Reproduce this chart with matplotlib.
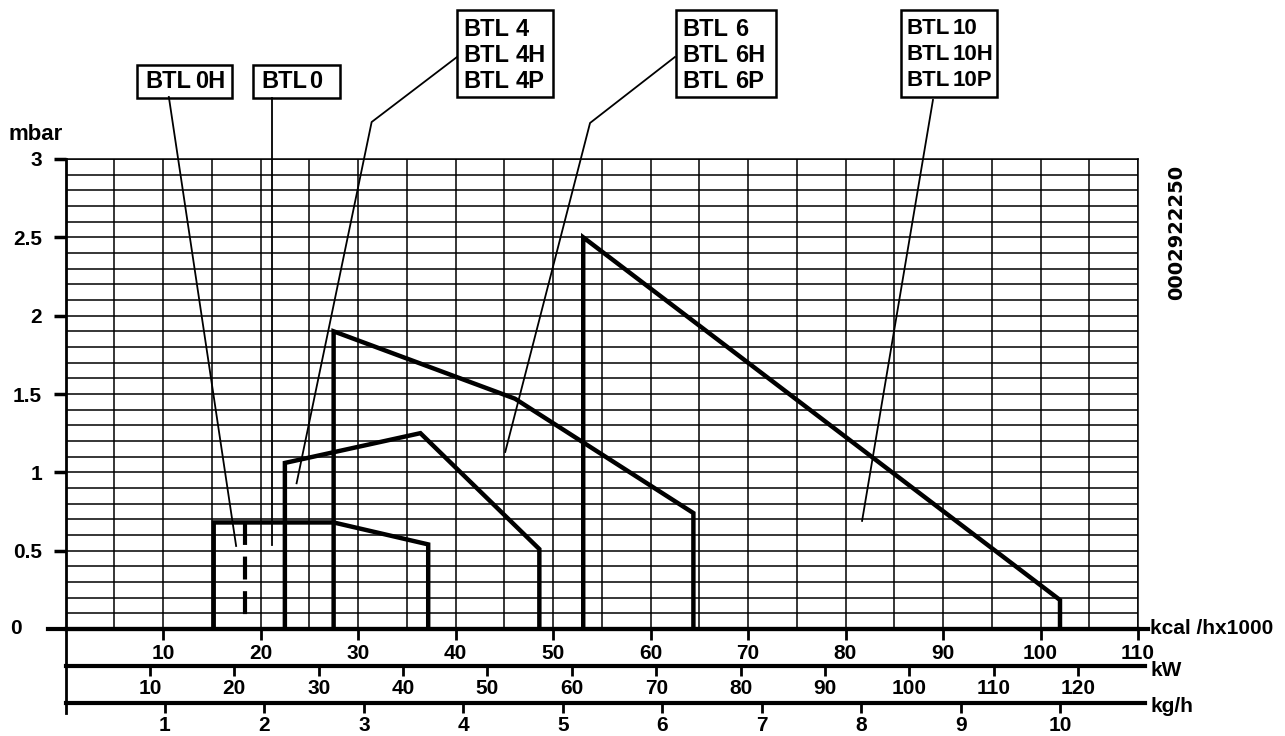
import matplotlib
matplotlib.use("Agg")
import matplotlib.pyplot as plt
from matplotlib.patches import Rectangle
from matplotlib.ticker import MultipleLocator, FixedLocator

# working ranges of the burners: kcal/h x1000 against mbar
btl0_x = [15.2, 15.2, 27.5, 37.2, 37.2]
btl0_y = [0.0, 0.68, 0.68, 0.54, 0.0]
btl0h_x = [18.4, 18.4]
btl0h_y = [0.68, 0.06]
btl4_x = [22.5, 22.5, 36.4, 48.6, 48.6]
btl4_y = [0.0, 1.06, 1.25, 0.51, 0.0]
btl6_x = [27.5, 27.5, 46.1, 64.4, 64.4]
btl6_y = [0.0, 1.9, 1.47, 0.74, 0.0]
btl10_x = [53.1, 53.1, 102.0, 102.0]
btl10_y = [0.0, 2.5, 0.185, 0.0]

kcal_ticks = [10, 20, 30, 40, 50, 60, 70, 80, 90, 100, 110]
kw_ticks = [10, 20, 30, 40, 50, 60, 70, 80, 90, 100, 110, 120]
kgh_ticks = [1, 2, 3, 4, 5, 6, 7, 8, 9, 10]
mbar_ticks = [0.5, 1, 1.5, 2, 2.5, 3]
mbar_labels = ["0.5", "1", "1.5", "2", "2.5", "3"]

KCAL_PER_KW = 0.8656
KCAL_PER_KGH = 10.205

W, H = 1285, 736
plt.rcParams["font.family"] = ["Liberation Sans", "DejaVu Sans"]
plt.rcParams["font.weight"] = "bold"


def fx(px):
    return px / W


def fy(py):
    return 1 - py / H


fig = plt.figure(figsize=(W / 100, H / 100), dpi=100)
ax = fig.add_axes([fx(65.5), fy(629), (1138 - 65.5) / W, 470 / H])
ax.set_xlim(0, 110)
ax.set_ylim(0, 3)

# grid
ax.xaxis.set_major_locator(FixedLocator(kcal_ticks))
ax.xaxis.set_minor_locator(MultipleLocator(5))
ax.yaxis.set_major_locator(FixedLocator(mbar_ticks))
ax.yaxis.set_minor_locator(MultipleLocator(0.1))
ax.grid(True, which="both", color="black", linewidth=1.1)
ax.set_axisbelow(True)
ax.tick_params(which="minor", length=0)
ax.tick_params(axis="x", which="major", direction="out", length=8, width=2,
               pad=3, labelsize=15)
ax.tick_params(axis="y", which="major", direction="out", length=9, width=2.5,
               pad=8, labelsize=15)
ax.set_xticklabels([str(t) for t in kcal_ticks])
ax.set_yticklabels(mbar_labels)
for s in ["top", "right"]:
    ax.spines[s].set_linewidth(1.1)
ax.spines["left"].set_linewidth(2.0)
ax.spines["bottom"].set_linewidth(3.0)

# curves
for xs, ys in [(btl0_x, btl0_y), (btl4_x, btl4_y), (btl6_x, btl6_y), (btl10_x, btl10_y)]:
    ax.plot(xs, ys, color="black", linewidth=3.2, solid_joinstyle="miter",
            solid_capstyle="butt", zorder=5)
ax.plot(btl0h_x, btl0h_y, color="black", linewidth=3.0, dashes=(5.5, 2.8),
        solid_capstyle="butt", zorder=5)

# secondary scales
kw_ax = ax.secondary_xaxis(-37 / 470, functions=(lambda v: v / KCAL_PER_KW,
                                                   lambda v: v * KCAL_PER_KW))
kw_ax.set_xticks(kw_ticks)
kw_ax.set_xticklabels([str(t) for t in kw_ticks])
kgh_ax = ax.secondary_xaxis(-74 / 470, functions=(lambda v: v / KCAL_PER_KGH,
                                                    lambda v: v * KCAL_PER_KGH))
kgh_ax.set_xticks(kgh_ticks)
kgh_ax.set_xticklabels([str(t) for t in kgh_ticks])
for sec in [kw_ax, kgh_ax]:
    sec.spines["bottom"].set_visible(False)
    sec.tick_params(direction="out", length=7, width=2, pad=2.5, labelsize=15)

# axis lines drawn by hand so they run past the grid
lines = [
    ([48, 1148], [629, 629], 3.0),
    ([65.5, 1145], [666, 666], 3.0),
    ([65.5, 1145], [703, 703], 3.0),
    ([65.5, 65.5], [629, 713], 2.0),
]
for lx, ly, lw in lines:
    fig.add_artist(plt.Line2D([fx(v) for v in lx], [fy(v) for v in ly],
                              color="black", linewidth=lw))

fig.text(fx(10), fy(628), "0", fontsize=15, va="center", ha="left")
fig.text(fx(8), fy(134), "mbar", fontsize=16, va="center", ha="left")
fig.text(fx(1150), fy(629), "kcal /hx1000", fontsize=15, va="center", ha="left")
fig.text(fx(1150), fy(670), "kW", fontsize=15, va="center", ha="left")
fig.text(fx(1150), fy(706), "kg/h", fontsize=15, va="center", ha="left")
fig.text(fx(1177), fy(232), "0002922250", fontsize=14, rotation=90,
         va="center", ha="center", family=["DejaVu Sans"])

# labelled boxes: edges, where "BTL" and the model number start, text size
boxes = [
    (137, 232, 65, 98, [("BTL", "0H")], 145, 195, 17),
    (253, 340, 65, 98, [("BTL", "0")], 261, 309, 17),
    (457, 553, 10, 97, [("BTL", "4"), ("BTL", "4H"), ("BTL", "4P")], 463, 516, 17),
    (676, 776, 10, 97, [("BTL", "6"), ("BTL", "6H"), ("BTL", "6P")], 682, 735, 17),
    (901, 997, 10, 97, [("BTL", "10"), ("BTL", "10H"), ("BTL", "10P")], 906, 953, 16),
]
for x0, x1, y0, y1, rows, bx, nx, size in boxes:
    fig.add_artist(Rectangle((fx(x0), fy(y1)), (x1 - x0) / W, (y1 - y0) / H,
                             transform=fig.transFigure, fill=False,
                             edgecolor="black", linewidth=1.8))
    if len(rows) == 1:
        centers = [(y0 + y1) / 2]
    else:
        centers = [29, 55, 81]
    for (a, b), cy in zip(rows, centers):
        fig.text(fx(bx), fy(cy), a, fontsize=size, va="center", ha="left")
        fig.text(fx(nx), fy(cy), b, fontsize=size, va="center", ha="left")

# leader lines in data coordinates
leaders = [
    ([10.6, 17.5], [3.396, 0.53]),
    ([21.2, 21.2], [3.39, 0.535]),
    ([40.15, 31.4, 23.7], [3.651, 3.236, 0.93]),
    ([62.5, 53.8, 45.1], [3.651, 3.23, 1.13]),
    ([88.97, 81.7], [3.377, 0.69]),
]
for lx, ly in leaders:
    ax.plot(lx, ly, color="black", linewidth=1.3, clip_on=False, zorder=6)

fig.savefig("out.png", dpi=100)
